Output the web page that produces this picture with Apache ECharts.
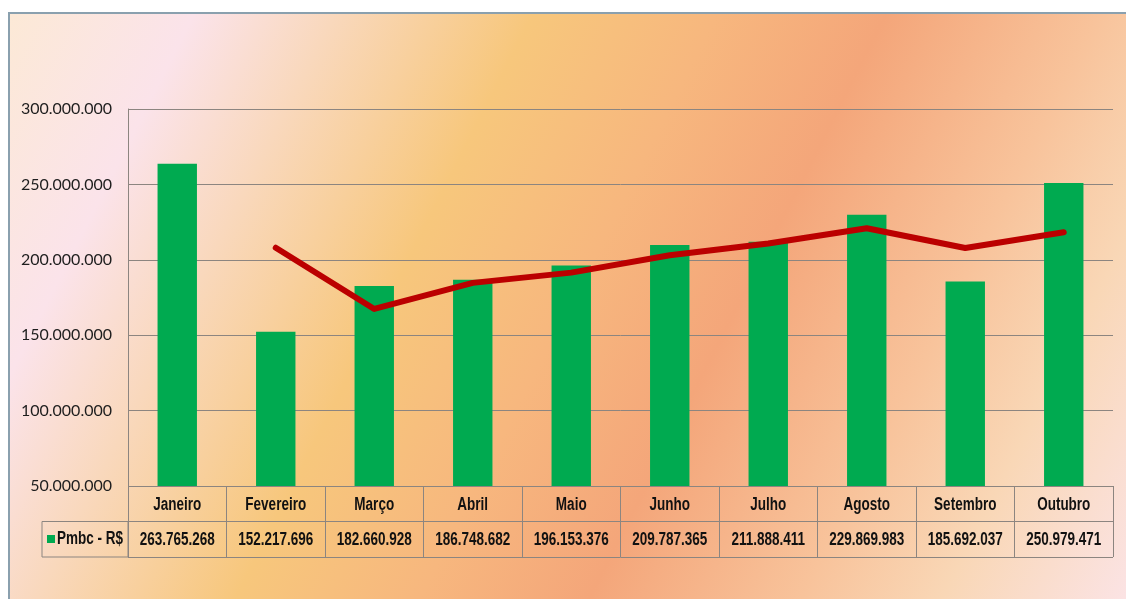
<!DOCTYPE html>
<html>
<head>
<meta charset="utf-8">
<script src="https://cdn.jsdelivr.net/npm/echarts@6/dist/echarts.min.js"></script>
<style>
  html, body { margin: 0; padding: 0; background: #fff; }
  #frame {
    position: absolute; left: 8px; top: 12px; width: 1118px; height: 587px;
    border-left: 2px solid #8aa0ae; border-top: 2px solid #8aa0ae;
    box-sizing: border-box;
    background: linear-gradient(117deg, #fce9d6 0%, #fbe3ea 13%, #f9d8bc 23%, #f7c77c 37%, #f7b77e 50%, #f4a67a 62%, #f8c39b 77%, #f9d7b6 87%, #fbe3e4 100%);
  }
  #main { position: absolute; left: 0; top: 0; width: 1126px; height: 599px; }
</style>
</head>
<body>
<div id="frame"></div>
<div id="main"></div>
<script>
// meses
var months = ['Janeiro', 'Fevereiro', 'Março', 'Abril', 'Maio', 'Junho', 'Julho', 'Agosto', 'Setembro', 'Outubro'];
// Pmbc - R$
var pmbc = [263765268, 152217696, 182660928, 186748682, 196153376, 209787365, 211888411, 229869983, 185692037, 250979471];
// linha de tendência
var trend = [null, 208000000, 167400000, 184700000, 191500000, 203000000, 210800000, 220900000, 207800000, 218300000];
var yTicks = [50000000, 300000000, 50000000]; // min, max, intervalo

function fmt(v) {
    return String(v).replace(/\B(?=(\d{3})+(?!\d))/g, '.');
}

var tableFont = "bold 18px 'Liberation Sans', Arial, sans-serif";
var squeeze = 0.75;
var gridColor = '#8c8580';

// células da tabela: [coluna, linha, texto]
var cells = [];
months.forEach(function (m, i) {
    cells.push([i, 1.5, m]);
    cells.push([i, 0.5, fmt(pmbc[i])]);
});

var myChart = echarts.init(document.getElementById('main'), null, { renderer: 'canvas' });
myChart.setOption({
    backgroundColor: 'transparent',
    animation: false,
    grid: [
        { left: 128, right: 13, top: 109, height: 377 },
        { left: 128, right: 13, top: 486, height: 71 }
    ],
    xAxis: [
        {
            type: 'category', gridIndex: 0, data: months,
            axisLine: { show: false },
            axisTick: { show: false },
            axisLabel: { show: false }
        },
        {
            type: 'category', gridIndex: 1, data: months,
            axisLine: { show: false },
            axisTick: { show: false },
            axisLabel: { show: false },
            splitLine: { show: true, interval: 0, lineStyle: { color: gridColor, width: 1 } }
        }
    ],
    yAxis: [
        {
            type: 'value', gridIndex: 0,
            min: yTicks[0], max: yTicks[1], interval: yTicks[2],
            axisLine: { show: true, lineStyle: { color: gridColor } },
            axisTick: { show: false },
            axisLabel: { margin: 16, fontFamily: 'Lato, sans-serif', fontSize: 16, color: '#1e1e1e', formatter: fmt },
            splitLine: { show: true, lineStyle: { color: gridColor, width: 1 } }
        },
        {
            type: 'value', gridIndex: 1, min: 0, max: 2, interval: 1,
            axisLine: { show: true, lineStyle: { color: gridColor } },
            axisTick: { show: false },
            axisLabel: { show: false },
            splitLine: { show: true, lineStyle: { color: gridColor, width: 1 } }
        }
    ],
    graphic: [
        {
            type: 'rect', x: 42, y: 521.5,
            shape: { width: 86, height: 35.5 },
            style: { fill: 'none', stroke: gridColor, lineWidth: 1 },
            silent: true
        },
        {
            type: 'rect', x: 47, y: 535,
            shape: { width: 8, height: 8 },
            style: { fill: '#00aa50' },
            silent: true
        },
        {
            type: 'text', x: 57, y: 539.5, scaleX: squeeze,
            style: { text: 'Pmbc - R$', font: tableFont, fill: '#111', textAlign: 'left', textVerticalAlign: 'middle' },
            silent: true
        }
    ],
    series: [
        {
            name: 'Pmbc - R$',
            type: 'bar',
            xAxisIndex: 0, yAxisIndex: 0,
            data: pmbc,
            barWidth: '40%',
            itemStyle: { color: '#00aa50' },
            clip: true
        },
        {
            name: 'Tendência',
            type: 'line',
            xAxisIndex: 0, yAxisIndex: 0,
            data: trend,
            symbol: 'none',
            connectNulls: false,
            lineStyle: { color: '#bb0000', width: 6, cap: 'round', join: 'round' },
            z: 3
        },
        {
            name: 'tabela',
            type: 'custom',
            xAxisIndex: 1, yAxisIndex: 1,
            data: cells,
            silent: true,
            renderItem: function (params, api) {
                var p = api.coord([api.value(0), api.value(1)]);
                return {
                    type: 'text',
                    x: p[0], y: p[1] + 1,
                    scaleX: squeeze,
                    style: {
                        text: cells[params.dataIndex][2],
                        font: tableFont,
                        fill: '#111',
                        textAlign: 'center',
                        textVerticalAlign: 'middle'
                    }
                };
            }
        }
    ]
});
</script>
</body>
</html>
